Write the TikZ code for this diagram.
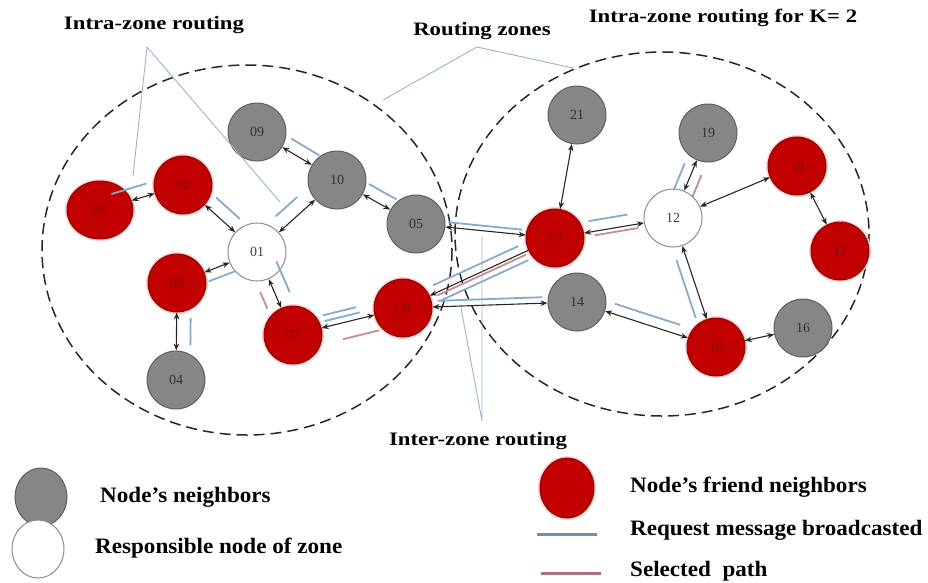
\documentclass[tikz,border=0pt]{standalone}
\usepackage{fontspec}
\usepackage{graphicx}
\setmainfont{Liberation Serif}
\usetikzlibrary{arrows.meta,calc,shapes.geometric}

\definecolor{nodegray}{HTML}{868686}
\definecolor{nodegrayline}{HTML}{5E5E5E}
\definecolor{friendred}{HTML}{C20000}
\definecolor{friendline}{HTML}{850808}
\definecolor{friendtext}{HTML}{8A0000}
\definecolor{reqblue}{HTML}{86AACD}
\definecolor{selred}{HTML}{C98A92}
\definecolor{pointerblue}{HTML}{9DB2C8}

\tikzset{
  nodebase/.style={circle, minimum size=58pt, inner sep=0pt, line width=1pt,
    font=\fontsize{14}{16}\selectfont},
  nbr/.style={nodebase, fill=nodegray, draw=nodegrayline, text=black!80},
  friend/.style={nodebase, fill=friendred, draw=friendline, text=friendtext,
    preaction={draw=red!18, line width=4pt}},
  head/.style={nodebase, fill=white, draw=black!45, text=black!75},
  link/.style={draw=black!85, line width=1.1pt,
    {Stealth[length=7pt,width=5.5pt]}-{Stealth[length=7pt,width=5.5pt]}},
  onelink/.style={draw=black!85, line width=1.1pt,
    {Stealth[length=7pt,width=5.5pt]}-},
  req/.style={draw=reqblue, line width=1.8pt},
  sel/.style={draw=selred, line width=1.8pt},
  zone/.style={draw=black!85, line width=1.5pt, dash pattern=on 11pt off 6pt},
  pointer/.style={draw=pointerblue, line width=0.9pt},
  caption/.style={font=\bfseries\fontsize{19}{22}\selectfont, inner sep=0pt},
  legendtext/.style={font=\bfseries\fontsize{22}{26}\selectfont, anchor=west, inner sep=0pt},
}

% a short stroke running beside the line from #2 to #3,
% between fractions #4 and #5, shifted sideways by #6
\newcommand{\besideseg}[6]{%
  \draw[#1] ($(#2)!#4!(#3)!#6!90:(#3)$) -- ($(#2)!#5!(#3)!#6!-90:(#2)$);}
\newcommand{\widetext}[2]{\scalebox{#1}[1]{#2}}

\begin{document}
\begin{tikzpicture}[x=1pt,y=-1pt]
\useasboundingbox (0,0) rectangle (928,582);

% routing zones
\draw[zone] (247,250) ellipse [x radius=205, y radius=185];
\draw[zone] (662,234) ellipse [x radius=207, y radius=182];

% left zone
\node[nbr]    (n09) at (257,132) {09};
\node[nbr]    (n10) at (337,180) {10};
\node[nbr]    (n05) at (416,224) {05};
\node[friend] (n02) at (183,185) {02};
\node[friend, ellipse, minimum width=66pt, minimum height=58pt] (n08) at (100,210) {08};
\node[head]   (n01) at (257,252) {01};
\node[friend] (n03) at (177,283) {03};
\node[nbr]    (n04) at (176,380) {04};
\node[friend] (n07) at (293,335) {07};
\node[friend] (n06) at (403,308) {06};

% right zone
\node[nbr]    (n21) at (577,115) {21};
\node[nbr]    (n19) at (708,133) {19};
\node[friend] (n18) at (797,166) {18};
\node[head]   (n12) at (673,218) {12};
\node[friend] (n13) at (555,238) {13};
\node[friend] (n17) at (840,251) {17};
\node[nbr]    (n14) at (577,302) {14};
\node[friend] (n15) at (716,347) {15};
\node[nbr]    (n16) at (803,328) {16};

% links
\draw[link] (n08) -- (n02);
\draw[link] (n02) -- (n01);
\draw[link] (n09) -- (n10);
\draw[link] (n10) -- (n05);
\draw[link] (n10) -- (n01);
\draw[link] (n03) -- (n01);
\draw[link] (n03) -- (n04);
\draw[link] (n01) -- (n07);
\draw[link] (n07) -- (n06);
\draw[link] (n05) -- (n13);
\draw[onelink] (n06) -- (n13);
\draw[link] (n06) -- (n14);
\draw[link] (n13) -- (n21);
\draw[link] (n13) -- (n12);
\draw[link] (n12) -- (n19);
\draw[link] (n12) -- (n18);
\draw[link] (n18) -- (n17);
\draw[link] (n12) -- (n15);
\draw[link] (n14) -- (n15);
\draw[link] (n15) -- (n16);

% request messages
\besideseg{req}{n08}{n02}{0.18}{0.6}{12pt}
\besideseg{req}{n02}{n01}{0.33}{0.65}{13pt}
\besideseg{req}{n09}{n10}{0.35}{0.7}{12pt}
\besideseg{req}{n10}{n05}{0.33}{0.68}{12pt}
\besideseg{req}{n10}{n01}{0.38}{0.65}{-14pt}
\besideseg{req}{n03}{n01}{0.35}{0.68}{-10pt}
\besideseg{req}{n03}{n04}{0.36}{0.64}{14pt}
\besideseg{req}{n01}{n07}{0.18}{0.55}{14pt}
\besideseg{req}{n07}{n06}{0.3}{0.62}{6pt}
\besideseg{req}{n07}{n06}{0.3}{0.6}{12pt}
\besideseg{req}{n05}{n13}{0.23}{0.76}{5pt}
\besideseg{req}{n06}{n13}{0.22}{0.78}{8pt}
\besideseg{req}{n06}{n13}{0.22}{0.8}{-9pt}
\besideseg{req}{n06}{n14}{0.2}{0.8}{6pt}
\besideseg{req}{n13}{n12}{0.3}{0.63}{11pt}
\besideseg{req}{n12}{n19}{0.28}{0.6}{10pt}
\besideseg{req}{n12}{n15}{0.3}{0.75}{-10pt}
\besideseg{req}{n14}{n15}{0.25}{0.72}{10pt}

% selected path
\besideseg{sel}{n01}{n07}{0.42}{0.62}{-13pt}
\besideseg{sel}{n07}{n06}{0.42}{0.75}{-16pt}
\besideseg{sel}{n06}{n13}{0.22}{0.8}{-3pt}
\besideseg{sel}{n13}{n12}{0.33}{0.7}{-4pt}
\besideseg{sel}{n12}{n19}{0.3}{0.55}{-10pt}

% captions and their pointers
\node[caption] (intra) at (154,25) {\widetext{1.2}{Intra-zone routing}};
\coordinate (intraTip) at (147,47);
\coordinate (intraA) at (133,176);
\coordinate (intraB) at (280,202);
\draw[pointer] (intraA) -- (intraTip) -- (intraB);

\node[caption] (zones) at (482,31) {\widetext{1.2}{Routing zones}};
\coordinate (zonesTip) at (477,47);
\coordinate (zonesA) at (383,100);
\coordinate (zonesB) at (573,68);
\draw[pointer] (zonesA) -- (zonesTip) -- (zonesB);

\node[caption] (intraK) at (723,18) {\widetext{1.2}{Intra-zone routing for K= 2}};

\node[caption] (inter) at (478,441) {\widetext{1.2}{Inter-zone routing}};
\coordinate (interTip) at (482,421);
\coordinate (interA) at (482,236);
\coordinate (interB) at (461,308);
\draw[pointer] (interA) -- (interTip) -- (interB);

% legend
\node[nbr, ellipse, minimum width=52pt, minimum height=58pt] (legNbr) at (41,497) {};
\node[legendtext] (legNbrText) at (100,497) {\widetext{1.05}{Node's neighbors}};
\node[head, ellipse, minimum width=52pt, minimum height=58pt] (legHead) at (38,549) {};
\node[legendtext] (legHeadText) at (95,548) {\widetext{1.05}{Responsible node of zone}};
\node[friend, ellipse, minimum width=54pt, minimum height=60pt] (legFriend) at (567,488) {};
\node[legendtext] (legFriendText) at (630,487) {\widetext{1.05}{Node's friend neighbors}};
\coordinate (legReqA) at (537,534);
\coordinate (legReqB) at (597,534);
\draw[draw=reqblue!85!black, line width=3pt] (legReqA) -- (legReqB);
\node[legendtext] (legReqText) at (630,530) {\widetext{1.05}{Request message broadcasted}};
\coordinate (legSelA) at (541,573);
\coordinate (legSelB) at (601,573);
\draw[draw=selred!85!black, line width=3pt] (legSelA) -- (legSelB);
\node[legendtext] (legSelText) at (630,571) {\widetext{1.05}{Selected\ \ path}};
\end{tikzpicture}
\end{document}
